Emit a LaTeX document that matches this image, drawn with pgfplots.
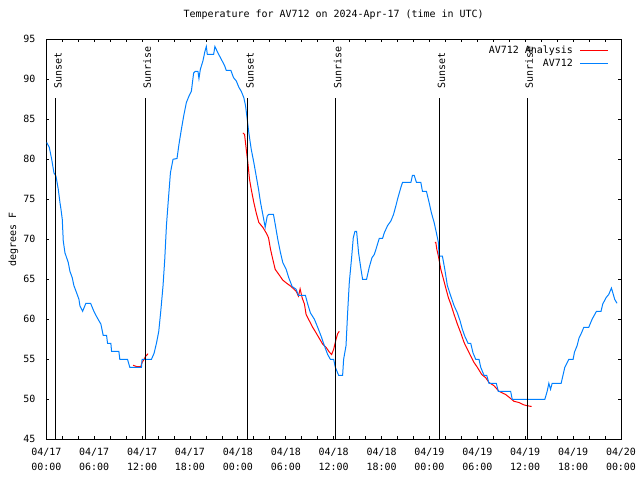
\documentclass[border=0pt]{standalone}
\usepackage{fontspec}
\setmainfont{DejaVu Sans Mono}
\usepackage{pgfplots}
\pgfplotsset{compat=1.18}
\definecolor{gblue}{RGB}{0,128,255}
\definecolor{gred}{RGB}{255,0,0}
\begin{document}
\begin{tikzpicture}
\begin{axis}[
  scale only axis, width=574.7bp, height=400bp,
  xmin=0, xmax=72, ymin=45, ymax=95,
  font=\fontsize{10}{12}\selectfont,
  /pgf/number format/assume math mode=true,
  axis line style={line width=0.8bp},
  tick style={black, line width=0.8bp},
  major tick length=3bp, minor tick length=3bp,
  tick align=inside,
  xtick={0,6,...,72},
  minor x tick num=2,
  xticklabels={04/17\\00:00,04/17\\06:00,04/17\\12:00,04/17\\18:00,04/18\\00:00,04/18\\06:00,04/18\\12:00,04/18\\18:00,04/19\\00:00,04/19\\06:00,04/19\\12:00,04/19\\18:00,04/20\\00:00},
  xticklabel style={align=center, font=\fontsize{10}{15}\selectfont, yshift=-5.4bp},
  ytick={45,50,...,95},
  yticklabel style={xshift=-7.3bp},
  title={Temperature for AV712 on 2024-Apr-17 (time in UTC)},
  title style={at={(0.5,1)}, anchor=base, yshift=16.3bp},
  ylabel={degrees F},
  ylabel style={at={(axis description cs:-0.0574,0.5)}, anchor=center},
  unbounded coords=jump,
  legend style={draw=none, fill=none, at={(rel axis cs:1,1)}, anchor=north east, xshift=-12bp, yshift=-4bp, inner sep=0pt, row sep=0.7bp, legend cell align=right, /tikz/every odd column/.append style={column sep=5bp}},
  legend plot pos=right,
  legend image code/.code={\draw[#1] (0bp,0bp) -- (28bp,0bp);},
]
\addplot[gred, line width=1bp] coordinates {
(10.875,54.25) (11.3,54.1) (11.84,54.1) (12.0,54.6) (12.25,55) (12.46,55.4) (12.75,55.7)
(12.8,nan)
(24.625,83.3) (24.84,83.1) (25.05,81.25) (25.25,79.6) (25.46,77.5) (25.675,76.25) (26.0,74.6) (26.3,73.3) (26.625,72.1) (27.125,71.5) (27.55,70.8) (27.84,70.2) (28.09,68.75) (28.375,67.5) (28.675,66.25) (29.21,65.5) (29.625,64.9) (30.125,64.5) (30.675,64.1) (31.3,63.5) (31.59,62.9) (31.8,63.8) (32.05,62.7) (32.34,61.9) (32.55,60.6) (32.96,59.8) (33.375,59) (33.8,58.3) (34.21,57.6) (34.625,56.9) (35.05,56.5) (35.46,55.9) (35.75,55.6) (36.0,56.25) (36.3,57.5) (36.5,58.2) (36.71,58.5)
(36.8,nan)
(48.675,69.6) (48.8,69.6) (48.925,68.75) (49.125,67.9) (49.425,66.25) (49.71,65.2) (50.05,63.9) (50.375,62.7) (50.675,61.9) (51.09,60.6) (51.5,59.4) (51.925,58.3) (52.34,57.1) (52.75,56.25) (53.175,55.4) (53.59,54.6) (54.0,54) (54.55,53.1) (55.05,52.7) (55.46,52.1) (56.09,51.7) (56.71,51) (57.55,50.6) (58.175,50.1) (58.59,49.75) (59.21,49.6) (59.84,49.3) (60.25,49.2) (60.8,49.1)
};
\addlegendentry{AV712 Analysis}
\addplot[gblue, line width=1bp] coordinates {
(0.05,82.1) (0.375,81.5) (0.675,80) (0.96,78.3) (1.21,77.9) (1.5,76.25) (1.71,74.6) (1.84,73.75) (2.0,72.5) (2.125,69.8) (2.34,68.3) (2.75,67.1) (2.96,66) (3.25,65.2) (3.46,64.2) (3.8,63.3) (4.09,62.5) (4.21,61.7) (4.55,61.0) (4.96,62) (5.55,62) (5.96,61.0) (6.375,60.2) (6.84,59.4) (7.125,58) (7.55,58) (7.675,57) (8.09,57) (8.175,56) (9.09,56) (9.21,55) (10.175,55) (10.46,54) (11.925,54) (12.0,55) (13.175,55) (13.5,55.75) (13.8,57) (14.09,58.5) (14.34,61) (14.625,64.2) (14.84,67.5) (15.05,71.7) (15.25,74.4) (15.55,78.3) (15.875,80) (16.375,80.1) (16.625,81.9) (16.925,83.75) (17.21,85.4) (17.55,87.1) (17.875,87.9) (18.175,88.5) (18.46,90.8) (18.675,91) (19.0,91) (19.125,90.1) (19.3,91.25) (19.625,92.3) (19.875,93.5) (20.05,94.1) (20.175,93.1) (20.96,93.1) (21.125,94.1) (21.5,93.3) (21.925,92.5) (22.34,91.7) (22.55,91.1) (23.125,91.1) (23.46,90.2) (23.8,89.8) (24.125,89) (24.425,88.5) (24.75,87.7) (24.96,86.7) (25.175,85) (25.375,83.3) (25.675,81.25) (26.0,79.6) (26.3,77.9) (26.59,76.25) (26.84,74.6) (27.125,73.1) (27.425,71.5) (27.675,72.9) (27.84,73.1) (28.46,73.1) (28.71,71.7) (29.0,70) (29.3,68.5) (29.625,67.1) (30.05,66.25) (30.375,65.2) (30.8,64.1) (31.3,63.75) (31.59,63) (32.46,63) (32.75,61.9) (33.09,60.8) (33.59,60) (34.0,59) (34.425,57.9) (34.84,56.7) (35.25,55.6) (35.59,55) (36.0,55) (36.21,54) (36.625,53) (37.125,53) (37.25,55) (37.55,56.7) (37.75,60.8) (37.96,64.6) (38.25,67.7) (38.46,70.2) (38.675,71) (38.875,71) (39.125,68.3) (39.425,66.25) (39.625,65) (40.125,65) (40.46,66.5) (40.8,67.7) (41.09,68.1) (41.3,68.75) (41.71,70.1) (42.125,70.1) (42.34,70.8) (42.75,71.7) (43.175,72.3) (43.5,73.1) (43.8,74.2) (44.0,75) (44.425,76.5) (44.625,77.1) (45.675,77.1) (45.875,78) (46.09,78) (46.375,77.1) (46.925,77.1) (47.125,76) (47.625,76) (47.96,74.6) (48.25,73.3) (48.59,72.1) (48.875,70.8) (49.125,69.6) (49.21,67.9) (49.625,67.9) (49.925,66.25) (50.25,64.2) (50.675,62.9) (51.09,61.7) (51.5,60.8) (51.84,59.8) (52.125,58.75) (52.425,57.9) (52.84,57) (53.175,57) (53.46,55.8) (53.8,55) (54.21,55) (54.425,54) (54.84,53) (55.175,53) (55.46,52) (56.375,52) (56.625,51) (58.175,51) (58.375,50) (62.46,50) (62.75,51) (62.96,52) (63.175,51.25) (63.375,52) (64.5,52) (64.71,52.9) (64.96,54) (65.46,55) (66.0,55) (66.175,55.9) (66.5,56.7) (66.75,57.7) (67.05,58.3) (67.34,59) (67.96,59) (68.375,60) (68.925,61) (69.5,61) (69.71,61.9) (70.125,62.7) (70.46,63.1) (70.8,63.9) (70.925,63.5) (71.21,62.5) (71.5,62)
};
\addlegendentry{AV712}
\addplot[black, line width=1bp, forget plot] coordinates {(1.2,45) (1.2,87.6) (1.2,nan) (12.4,45) (12.4,87.6) (12.4,nan) (25.25,45) (25.25,87.6) (25.25,nan) (36.25,45) (36.25,87.6) (36.25,nan) (49.25,45) (49.25,87.6) (49.25,nan) (60.25,45) (60.25,87.6)};
\node[rotate=90, anchor=base west] at (axis cs:1.91,88.4) {Sunset};
\node[rotate=90, anchor=base west] at (axis cs:13.11,88.4) {Sunrise};
\node[rotate=90, anchor=base west] at (axis cs:25.96,88.4) {Sunset};
\node[rotate=90, anchor=base west] at (axis cs:36.96,88.4) {Sunrise};
\node[rotate=90, anchor=base west] at (axis cs:49.96,88.4) {Sunset};
\node[rotate=90, anchor=base west] at (axis cs:60.96,88.4) {Sunrise};
\end{axis}
\pgfresetboundingbox
\useasboundingbox (-46.3bp,-40.7bp) rectangle (593.7bp,439.3bp);
\end{tikzpicture}
\end{document}
